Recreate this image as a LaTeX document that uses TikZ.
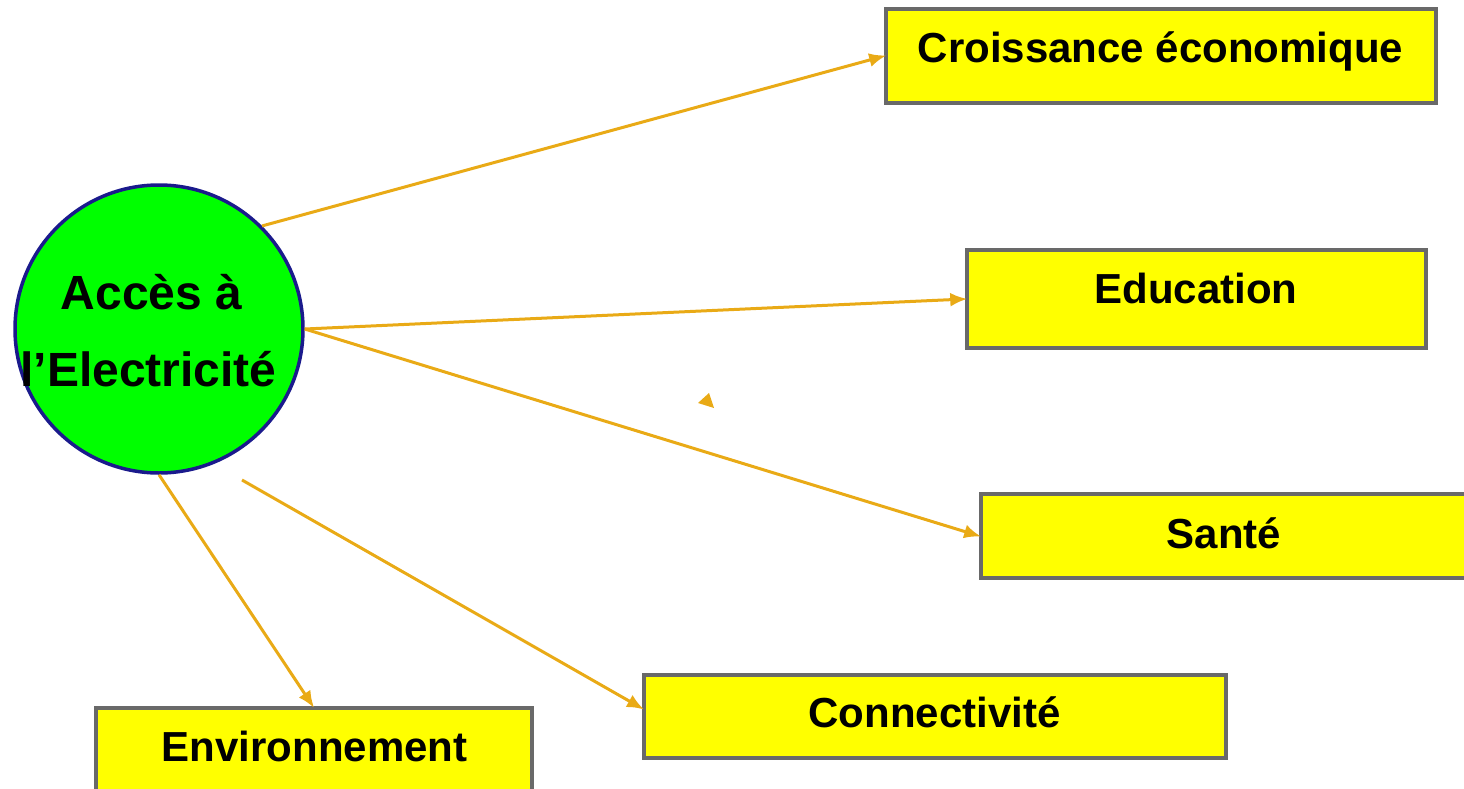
\documentclass[tikz,border=0pt]{standalone}
\usepackage{fontspec}
\setmainfont{Liberation Sans}
\usetikzlibrary{arrows.meta,calc}
\definecolor{arr}{RGB}{233,170,22}
\definecolor{bord}{RGB}{105,105,105}
\definecolor{navy}{RGB}{26,26,140}
\definecolor{ylw}{RGB}{255,255,0}
\definecolor{grn}{RGB}{0,255,0}
\tikzset{
  box/.style={draw=bord, line width=3.5pt, fill=ylw, rectangle, inner sep=0pt},
  lbl/.style={anchor=base, inner sep=0pt, font=\fontsize{42}{50}\selectfont\bfseries},
  clbl/.style={anchor=base, inner sep=0pt, font=\fontsize{48}{56}\selectfont\bfseries},
  conn/.style={draw=arr, line width=3pt, shorten >=-2pt, -{Latex[length=17pt,width=14pt]}},
}
\begin{document}
\begin{tikzpicture}[x=1pt,y=-1pt]
\useasboundingbox (0,0) rectangle (1464,789);
\clip (0,0) rectangle (1464,789);
% circle
\node[circle, draw=navy, line width=3.5pt, fill=grn, minimum size=288pt, inner sep=0pt] (acc) at (159,329) {};
\node[clbl] (acc1) at (151.5,309) {Accès à};
\node[clbl] (acc2) at (148.5,386) {l’Electricité};
% boxes
\node[box, minimum width=550pt, minimum height=94pt] (croi) at (1161,56) {};
\node[lbl] (croit) at (1160.5,63) {Croissance économique};
\node[box, minimum width=459pt, minimum height=98pt] (edu) at (1196.5,299) {};
\node[lbl] (edut) at (1196,303) {Education};
\node[box, minimum width=500pt, minimum height=84pt] (san) at (1231,536) {};
\node[lbl] (sant) at (1224,548) {Santé};
\node[box, minimum width=582pt, minimum height=83pt] (con) at (935,716.5) {};
\node[lbl] (cont) at (934.5,727) {Connectivité};
\node[box, minimum width=436pt, minimum height=100pt] (env) at (314,758) {};
\node[lbl] (envt) at (314.5,761) {Environnement};
% connectors
\coordinate (cstart) at (242,480);
\draw[conn] (acc.45) -- (croi.west);
\draw[conn] (acc.east) -- (edu.west);
\draw[conn] (acc.east) -- (san.west);
\draw[conn] (acc.south) -- ($(env.north)+(-1,0)$);
\draw[conn] (cstart) -- ($(con.west)+(0,-8)$);
% stray arrowhead
\fill[arr] (698,403) -- (709,393) -- (714,408) -- cycle;
\end{tikzpicture}
\end{document}
